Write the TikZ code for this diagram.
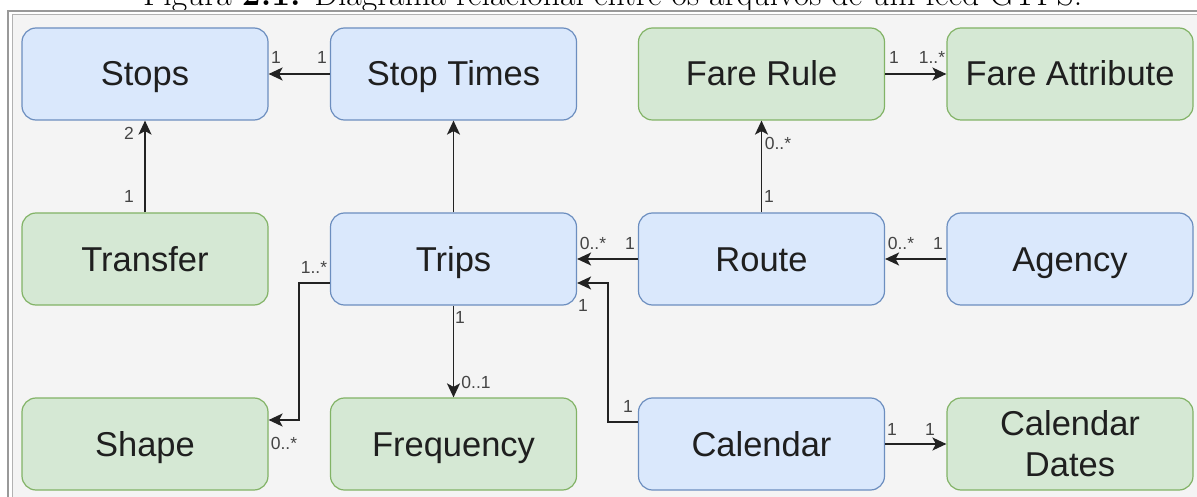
\documentclass[tikz,border=0pt]{standalone}
\usepackage{fontspec}
\newfontfamily\diafont{Liberation Sans}
\usetikzlibrary{arrows.meta}

\definecolor{bluefill}{HTML}{DAE8FC}
\definecolor{bluedraw}{HTML}{6C8EBF}
\definecolor{greenfill}{HTML}{D5E8D4}
\definecolor{greendraw}{HTML}{82B366}
\definecolor{canvas}{HTML}{F4F4F4}
\definecolor{edge}{HTML}{222222}
\definecolor{mult}{HTML}{444444}

\tikzset{
  entity/.style={draw, rounded corners=14pt, line width=1.2pt,
    minimum width=246pt, minimum height=92pt, inner sep=0pt,
    text height=25pt, text depth=1pt,
    text=black!88, font=\diafont\fontsize{34.5}{41}\selectfont},
  twoline/.style={text height=, text depth=, align=center},
  core/.style={entity, fill=bluefill, draw=bluedraw},
  extra/.style={entity, fill=greenfill, draw=greendraw},
  rel/.style={draw=edge, line width=1.7pt,
    -{Stealth[length=14pt,width=13pt,inset=3.5pt]}},
  card/.style={text=mult, inner sep=0pt, font=\diafont\fontsize{17.5}{19}\selectfont}
}

\begin{document}
\begin{tikzpicture}[x=1pt,y=-1pt]
\useasboundingbox (0,0) rectangle (1197,497);

% caption line above the frame
\node[anchor=base west, inner sep=0pt, font=\fontsize{33.6}{38}\selectfont] (caption)
  at (143,6) {Figura \textbf{2.1:} Diagrama relacional entre os arquivos de um feed GTFS.};

% framed canvas
\fill[canvas] (12,14) rectangle (1230,530);
\draw[gray!80, line width=2pt] (8,11) rectangle (1230,530);
\draw[gray!60, line width=1pt] (12,14.5) rectangle (1230,530);

% entities
\node[core]  (stops)    at (145,74)    {Stops};
\node[core]  (stimes)   at (453.5,74)  {Stop Times};
\node[extra] (farerule) at (761.5,74)  {Fare Rule};
\node[extra] (fareattr) at (1070,74)   {Fare Attribute};

\node[extra] (transfer) at (145,259)   {Transfer};
\node[core]  (trips)    at (453.5,259) {Trips};
\node[core]  (route)    at (761.5,259) {Route};
\node[core]  (agency)   at (1070,259)  {Agency};

\node[extra] (shape)    at (145,444)   {Shape};
\node[extra] (freq)     at (453.5,444) {Frequency};
\node[core]  (calendar) at (761.5,444) {Calendar};
\node[extra, twoline] (caldates) at (1070,444) {Calendar\\Dates};

% relations
\draw[rel] (stimes.west) -- (stops.east);
\draw[rel] (transfer.north) -- (stops.south);
\draw[rel] (trips.north) -- (stimes.south);
\draw[rel] (route.north) -- (farerule.south);
\draw[rel] (farerule.east) -- (fareattr.west);
\draw[rel] (route.west) -- (trips.east);
\draw[rel] (agency.west) -- (route.east);
\draw[rel] ([yshift=-24pt]trips.west) -- ++(-31,0) |- ([yshift=24pt]shape.east);
\draw[rel] (trips.south) -- (freq.north);
\draw[rel] ([yshift=22pt]calendar.west) -- ++(-30,0) |- ([yshift=-24pt]trips.east);
\draw[rel] (calendar.east) -- (caldates.west);

% multiplicities
\node[card] (m1)  at (276,57)  {1};
\node[card] (m2)  at (322,57)  {1};
\node[card] (m3)  at (129,133) {2};
\node[card] (m4)  at (129,196) {1};
\node[card] (m5)  at (778,143) {0..*};
\node[card] (m6)  at (769,196) {1};
\node[card] (m7)  at (894,57)  {1};
\node[card] (m8)  at (932,57)  {1..*};
\node[card] (m9)  at (593,243) {0..*};
\node[card] (m10) at (630,243) {1};
\node[card] (m11) at (901,243) {0..*};
\node[card] (m12) at (938,243) {1};
\node[card] (m13) at (314,267) {1..*};
\node[card] (m14) at (460,317) {1};
\node[card] (m15) at (476,382) {0..1};
\node[card] (m16) at (583,305) {1};
\node[card] (m17) at (628,406) {1};
\node[card] (m18) at (284,443) {0..*};
\node[card] (m19) at (892,429) {1};
\node[card] (m20) at (930,429) {1};
\end{tikzpicture}
\end{document}
